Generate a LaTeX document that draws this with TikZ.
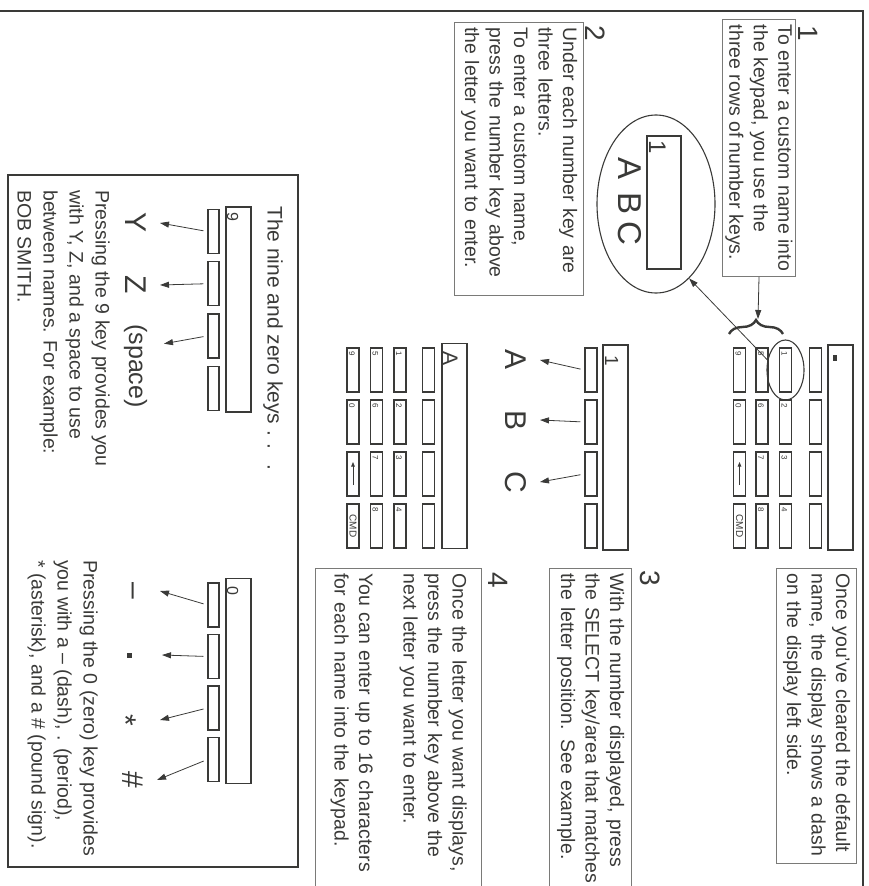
\documentclass[tikz,border=0pt]{standalone}
\usepackage{fontspec}
\setmainfont{Liberation Sans}
\usetikzlibrary{arrows.meta,positioning,calc,shapes.geometric,decorations.pathreplacing}
\definecolor{ink}{HTML}{3A3A38}
\definecolor{boxgray}{HTML}{7A7A78}

\begin{document}
\begin{tikzpicture}[
  x=1pt, y=-1pt,
  every node/.style={text=ink},
  note/.style={draw=boxgray, line width=0.8pt, rotate=-90, anchor=north west, align=left,
    inner xsep=5pt, inner ysep=3pt, font=\fontsize{19.5}{24.5}\selectfont},
  plain/.style={rotate=-90, anchor=north west, align=left, inner sep=0pt,
    font=\fontsize{19.5}{26}\selectfont},
  numlbl/.style={rotate=-90, anchor=base west, inner sep=0pt, font=\fontsize{28}{28}\selectfont},
  key/.style={draw=ink, line width=1.2pt, minimum width=12pt, minimum height=44pt, inner sep=0pt},
  disp/.style={draw=ink, line width=1.3pt, minimum width=25pt, minimum height=205pt, inner sep=0pt},
  klab/.style={rotate=-90, anchor=south west, inner sep=0pt, font=\fontsize{8}{8}\selectfont},
  dlab/.style={rotate=-90, anchor=base west, inner sep=0pt},
  sym/.style={rotate=-90, anchor=base, inner sep=0pt, outer sep=14pt, text height=21pt,
    text depth=0pt, font=\fontsize{30}{30}\selectfont},
  ptr/.style={draw=ink, line width=0.8pt, -{Triangle[length=9pt,width=6pt]}, shorten <=4pt},
  ring/.style={draw=ink, line width=1.1pt, ellipse, inner sep=0pt},
  brc/.style={draw=ink, line width=2.4pt, decorate, decoration={brace, amplitude=14pt}}
]
\useasboundingbox (0,0) rectangle (868,886);
\clip (0,0) rectangle (868,886);

% page frame
\draw[ink, line width=1.6pt] (0,11) -- (863,11) -- (863,886);

% text boxes
\node[note, inner xsep=4pt, minimum width=257pt, minimum height=73pt] (n1) at (796,19)
  {To enter a custom name into\\the keypad, you use the\\three rows of number keys.};
\node[note, text width=263pt, minimum height=129pt] (n2) at (584,22)
  {Under each number key are\\three letters.\\To enter a custom name,\\press the number key above\\the letter you want to enter.};
\node[note, text width=285pt, minimum height=80pt] (n0) at (857,568)
  {Once you've cleared the default\\name, the display shows a dash\\on the display left side.};
\node[note, text width=322pt, minimum height=82pt] (n3) at (632,568)
  {With the number displayed, press\\the SELECT key/area that matches\\the letter position. See example.};
\node[note, text width=322pt, minimum height=166pt] (n4) at (482,568)
  {Once the letter you want displays,\\press the number key above the\\next letter you want to enter.\\[20pt]You can enter up to 16 characters\\for each name into the keypad.};

\node[numlbl] (s1) at (798,25) {1};
\node[numlbl] (s2) at (585,25) {2};
\node[numlbl] (s3) at (640,570) {3};
\node[numlbl] (s4) at (488,572) {4};

% keypad, step 1
\node[disp] (td) at (840.5,447.5) {};
\fill[ink] (833,355) rectangle (837,361);
\foreach \r in {1,...,4}
  \node[key, minimum width=11.5pt] (tb\r) at (815.5,{370+52*(\r-1)}) {};
\foreach \c/\x in {1/785.5,2/762,3/739.5}
  \foreach \r in {1,...,4}
    \node[key] (t\c\r) at (\x,{370+52*(\r-1)}) {};
\foreach \k/\t in {11/1,12/2,13/3,14/4,21/5,22/6,23/7,24/8,31/9,32/0}
  \node[klab] at ([shift={(2.5,3.5)}]t\k.north west) {\t};
\draw[ink, line width=0.8pt, -{Triangle[length=4.5pt,width=3.5pt]}]
  ([shift={(0,11)}]t33.center) -- ([shift={(0,-12)}]t33.center);
\node[rotate=-90, inner sep=0pt, font=\fontsize{10}{10}\selectfont] (tcmd) at (t34) {CMD};

\node[ring, minimum width=37pt, minimum height=60pt] (kring) at (785.5,370) {};
\draw[brc] (729,334) -- (783,334);
\coordinate (brtip) at (758,319);
\draw[ptr, shorten <=0pt] (n1.east) -- (brtip);

% enlarged key
\node[ring, minimum width=118pt, minimum height=178pt] (bigring) at (656,204) {};
\node[draw=ink, line width=1.1pt, minimum width=34pt, minimum height=133pt, inner sep=0pt] (bigkey) at (664,202.5) {};
\node[dlab, font=\fontsize{24}{24}\selectfont] (bk1) at (649,140) {1};
\node[sym, font=\fontsize{33}{33}\selectfont] (ba) at (618,169) {A};
\node[sym, font=\fontsize{33}{33}\selectfont] (bb) at (618,204) {B};
\node[sym, font=\fontsize{33}{33}\selectfont] (bc) at (618,233.5) {C};
\draw[ptr, shorten <=0pt] (kring.151) -- (bigring.-66);

% keypad, step 3
\node[disp] (md) at (615.5,447.5) {};
\node[dlab, font=\fontsize{19}{19}\selectfont] (md1) at (605,355) {1};
\foreach \r in {1,...,4}
  \node[key] (m\r) at (591,{370+52*(\r-1)}) {};
\node[sym] (la) at (505,360) {A};
\node[sym] (lb) at (505,420) {B};
\node[sym] (lc) at (505,482) {C};
\draw[ptr] (m1.west) -- (la.north);
\draw[ptr] (m2.west) -- (lb.north);
\draw[ptr] (m3.west) -- (lc.north);

% keypad, step 4
\node[disp] (bd) at (454.5,446) {};
\node[dlab, font=\fontsize{21}{21}\selectfont] (bda) at (443,351) {A};
\foreach \r in {1,...,4}
  \node[key, minimum width=11.5pt] (bb\r) at (428.5,{370+52*(\r-1)}) {};
\foreach \c/\x in {1/400,2/376.5,3/353}
  \foreach \r in {1,...,4}
    \node[key] (b\c\r) at (\x,{370+52*(\r-1)}) {};
\foreach \k/\t in {11/1,12/2,13/3,14/4,21/5,22/6,23/7,24/8,31/9,32/0}
  \node[klab] at ([shift={(2.5,3.5)}]b\k.north west) {\t};
\draw[ink, line width=0.8pt, -{Triangle[length=4.5pt,width=3.5pt]}]
  ([shift={(0,11)}]b33.center) -- ([shift={(0,-12)}]b33.center);
\node[rotate=-90, inner sep=0pt, font=\fontsize{10}{10}\selectfont] (bcmd) at (b34) {CMD};

% nine and zero keys
\draw[ink, line width=1.2pt] (8,175) rectangle (298,867);
\node[rotate=-90, anchor=north west, inner sep=0pt, font=\fontsize{21}{21}\selectfont] (t90)
  at (283,206) {The nine and zero keys . .\hspace{.7em}.};

\node[disp] (pd) at (238.5,309.5) {};
\node[dlab, font=\fontsize{16}{16}\selectfont] (pd9) at (227,212) {9};
\foreach \r in {1,...,4}
  \node[key, minimum width=11pt] (p\r) at (213.5,{231.5+52.2*(\r-1)}) {};
\node[sym] (ly) at (125,223) {Y};
\node[sym] (lz) at (125,285) {Z};
\node[sym, font=\fontsize{25}{25}\selectfont] (lsp) at (129,366) {(space)};
\draw[ptr] (p1.west) -- (ly.north);
\draw[ptr] (p2.west) -- (lz.north);
\draw[ptr] (p3.west) -- ($(lsp.north west)!.3!(lsp.north east)$);
\node[plain] (t9) at (110,190)
  {Pressing the 9 key provides you\\with Y, Z, and a space to use\\between names. For example:\\BOB SMITH.};

\node[disp] (qd) at (238.5,681) {};
\node[dlab, font=\fontsize{16}{16}\selectfont] (qd0) at (227,586) {0};
\foreach \r in {1,...,4}
  \node[key, minimum width=11pt] (q\r) at (213.5,{605+51.5*(\r-1)}) {};
\node[sym] (ldash) at (125,591) {\textendash};
\node[sym] (ldot) at (127,655) {\rule{5pt}{5pt}};
\node[sym] (last) at (125,720) {\raisebox{-10pt}{*}};
\node[sym] (lhash) at (122,780) {\#};
\draw[ptr] (q1.west) -- (ldash.north);
\draw[ptr] (q2.west) -- (ldot.north);
\draw[ptr] (q3.west) -- (last.north);
\draw[ptr] (q4.west) -- (lhash.north);
\node[plain] (t0) at (98,560)
  {Pressing the 0 (zero) key provides\\you with a \textendash{} (dash), . (period),\\* (asterisk), and a \# (pound sign).};
\end{tikzpicture}
\end{document}
